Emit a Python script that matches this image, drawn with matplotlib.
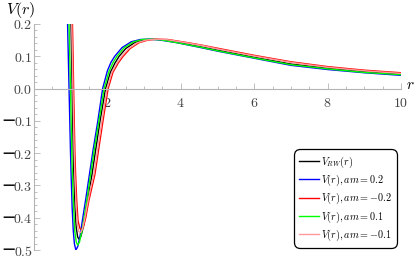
import matplotlib
matplotlib.use("Agg")
import matplotlib.pyplot as plt
from matplotlib.ticker import MultipleLocator

plt.rcParams['mathtext.fontset'] = 'cm'
plt.rcParams['font.family'] = ['DejaVu Serif']

# ---- data ----
r_rw = [0.998, 1.008, 1.025, 1.04, 1.055, 1.07, 1.09, 1.12, 1.15, 1.19, 1.23, 1.28, 1.34, 1.42, 1.50,
        1.58, 1.68, 1.80, 1.95, 2.08, 2.2, 2.32, 2.5, 2.75, 3.0, 3.25, 3.5, 4.0, 4.5, 5.0, 6.0, 7.0,
        8.0, 9.0, 10.0]
v_rw = [0.30, 0.20, 0.10, 0.0, -0.10, -0.20, -0.28, -0.37, -0.43, -0.46, -0.467, -0.457, -0.43,
        -0.375, -0.32, -0.266, -0.19, -0.10, 0.0, 0.05, 0.078, 0.10, 0.124, 0.143, 0.151, 0.153,
        0.151, 0.141, 0.130, 0.119, 0.097, 0.076, 0.063, 0.052, 0.044]

r_p2 = [0.905, 0.915, 0.935, 0.955, 0.975, 0.995, 1.015, 1.04, 1.07, 1.10, 1.14, 1.19, 1.25, 1.33,
        1.42, 1.51, 1.61, 1.74, 1.87, 2.0, 2.1, 2.2, 2.4, 2.65, 2.9, 3.1, 3.4, 3.9, 4.5, 5.0, 6.0,
        7.0, 8.0, 9.0, 10.0]
v_p2 = [0.30, 0.20, 0.10, 0.0, -0.10, -0.20, -0.28, -0.37, -0.44, -0.48, -0.50, -0.49, -0.46,
        -0.40, -0.335, -0.266, -0.19, -0.10, 0.0, 0.055, 0.082, 0.10, 0.127, 0.145, 0.152, 0.153,
        0.151, 0.142, 0.128, 0.116, 0.094, 0.072, 0.059, 0.049, 0.041]

r_m2 = [1.035, 1.048, 1.065, 1.08, 1.097, 1.115, 1.135, 1.165, 1.20, 1.25, 1.30, 1.35, 1.41, 1.49,
        1.57, 1.66, 1.76, 1.88, 2.02, 2.15, 2.30, 2.43, 2.62, 2.86, 3.1, 3.35, 3.65, 4.2, 4.6, 5.0,
        6.0, 7.0, 8.0, 9.0, 10.0]
v_m2 = [0.30, 0.20, 0.10, 0.0, -0.10, -0.20, -0.27, -0.35, -0.41, -0.433, -0.437, -0.428, -0.40,
        -0.35, -0.31, -0.266, -0.19, -0.10, 0.0, 0.05, 0.08, 0.10, 0.124, 0.142, 0.150, 0.153,
        0.152, 0.142, 0.134, 0.125, 0.103, 0.083, 0.068, 0.057, 0.049]

r_p1 = [0.945, 0.955, 0.975, 0.995, 1.012, 1.03, 1.05, 1.08, 1.11, 1.15, 1.19, 1.24, 1.30, 1.38,
        1.46, 1.54, 1.64, 1.77, 1.91, 2.04, 2.15, 2.26, 2.45, 2.7, 2.95, 3.15, 3.45, 3.95, 4.5, 5.0,
        6.0, 7.0, 8.0, 9.0, 10.0]
v_p1 = [0.30, 0.20, 0.10, 0.0, -0.10, -0.20, -0.28, -0.37, -0.44, -0.475, -0.485, -0.475, -0.445,
        -0.39, -0.33, -0.266, -0.19, -0.10, 0.0, 0.052, 0.08, 0.10, 0.126, 0.144, 0.152, 0.153,
        0.151, 0.141, 0.129, 0.117, 0.095, 0.074, 0.061, 0.050, 0.043]

r_m1 = [1.015, 1.028, 1.045, 1.06, 1.077, 1.095, 1.115, 1.145, 1.18, 1.22, 1.27, 1.32, 1.38, 1.46,
        1.54, 1.63, 1.73, 1.85, 1.99, 2.12, 2.26, 2.39, 2.58, 2.82, 3.05, 3.3, 3.6, 4.1, 4.6, 5.0,
        6.0, 7.0, 8.0, 9.0, 10.0]
v_m1 = [0.30, 0.20, 0.10, 0.0, -0.10, -0.20, -0.28, -0.36, -0.42, -0.443, -0.446, -0.435, -0.405,
        -0.355, -0.31, -0.266, -0.19, -0.10, 0.0, 0.05, 0.079, 0.10, 0.124, 0.142, 0.150, 0.153,
        0.152, 0.143, 0.133, 0.123, 0.101, 0.081, 0.066, 0.055, 0.047]

labels = [r'$V_{RW}(r)$', r'$V(r), am=0.2$', r'$V(r), am=-0.2$', r'$V(r), am=0.1$', r'$V(r), am=-0.1$']
colors = ['black', '#0000ff', '#ff0000', '#00ff00', '#ff9999']
yticks = [-0.5, -0.4, -0.3, -0.2, -0.1, 0.0, 0.1, 0.2]
xticks = [2, 4, 6, 8, 10]

W, H = 418, 260
fig = plt.figure(figsize=(W / 100, H / 100), dpi=100)
ax = fig.add_axes([34 / W, 10 / H, (401 - 34) / W, (250.5 - 24.5) / H])

series = [(r_rw, v_rw), (r_p2, v_p2), (r_m2, v_m2), (r_p1, v_p1), (r_m1, v_m1)]
for (rr, vv), c, lab in zip(series, colors, labels):
    ax.plot(rr, vv, color=c, lw=1.0, label=lab, solid_joinstyle='round')

ax.set_xlim(0, 10)
ax.set_ylim(-0.5, 0.2)

axis_gray = '#b4b4b4'
for s in ['top', 'right']:
    ax.spines[s].set_visible(False)
ax.spines['left'].set_position(('data', 0))
ax.spines['bottom'].set_position(('data', 0))
for s in ['left', 'bottom']:
    ax.spines[s].set_color(axis_gray)
    ax.spines[s].set_linewidth(0.8)

ax.set_xticks(xticks)
ax.set_xticklabels([f'${t}$' for t in xticks])
ax.xaxis.set_minor_locator(MultipleLocator(0.5))
ax.set_yticks(yticks)
ax.set_yticklabels([f'${abs(t):.1f}$' for t in yticks])
ax.yaxis.set_minor_locator(MultipleLocator(0.02))
ax.tick_params(axis='both', which='both', direction='in', color=axis_gray, width=0.6,
               labelsize=10, labelcolor='#444444')
ax.tick_params(axis='both', which='major', length=4)
ax.tick_params(axis='both', which='minor', length=2)
ax.tick_params(axis='x', pad=5)
ax.tick_params(axis='y', pad=1)

# detached minus signs of negative tick labels
for t in yticks:
    if t < 0:
        yfig = ax.transData.transform((0, t))[1] / H
        fig.text(2 / W, yfig, '\u2014', ha='left', va='center', fontsize=9, color='#111111',
                 family='DejaVu Sans', fontweight='bold')

fig.text(6 / W, 1 - 10 / H, r'$V(r)$', ha='left', va='center', fontsize=11.5)
fig.text(406 / W, 1 - 85 / H, r'$r$', ha='left', va='center', fontsize=11)

leg = ax.legend(loc='lower right', bbox_to_anchor=(397 / W, 1 - 248 / H), bbox_transform=fig.transFigure,
                fontsize=7.3, handlelength=2.0, handletextpad=0.2, labelspacing=0.3,
                borderpad=0.5, borderaxespad=0, frameon=True, fancybox=True, framealpha=1)
frame = leg.get_frame()
frame.set_edgecolor('black')
frame.set_linewidth(0.9)
frame.set_boxstyle('round,pad=0,rounding_size=0.6')

fig.savefig('out.png', dpi=100)
